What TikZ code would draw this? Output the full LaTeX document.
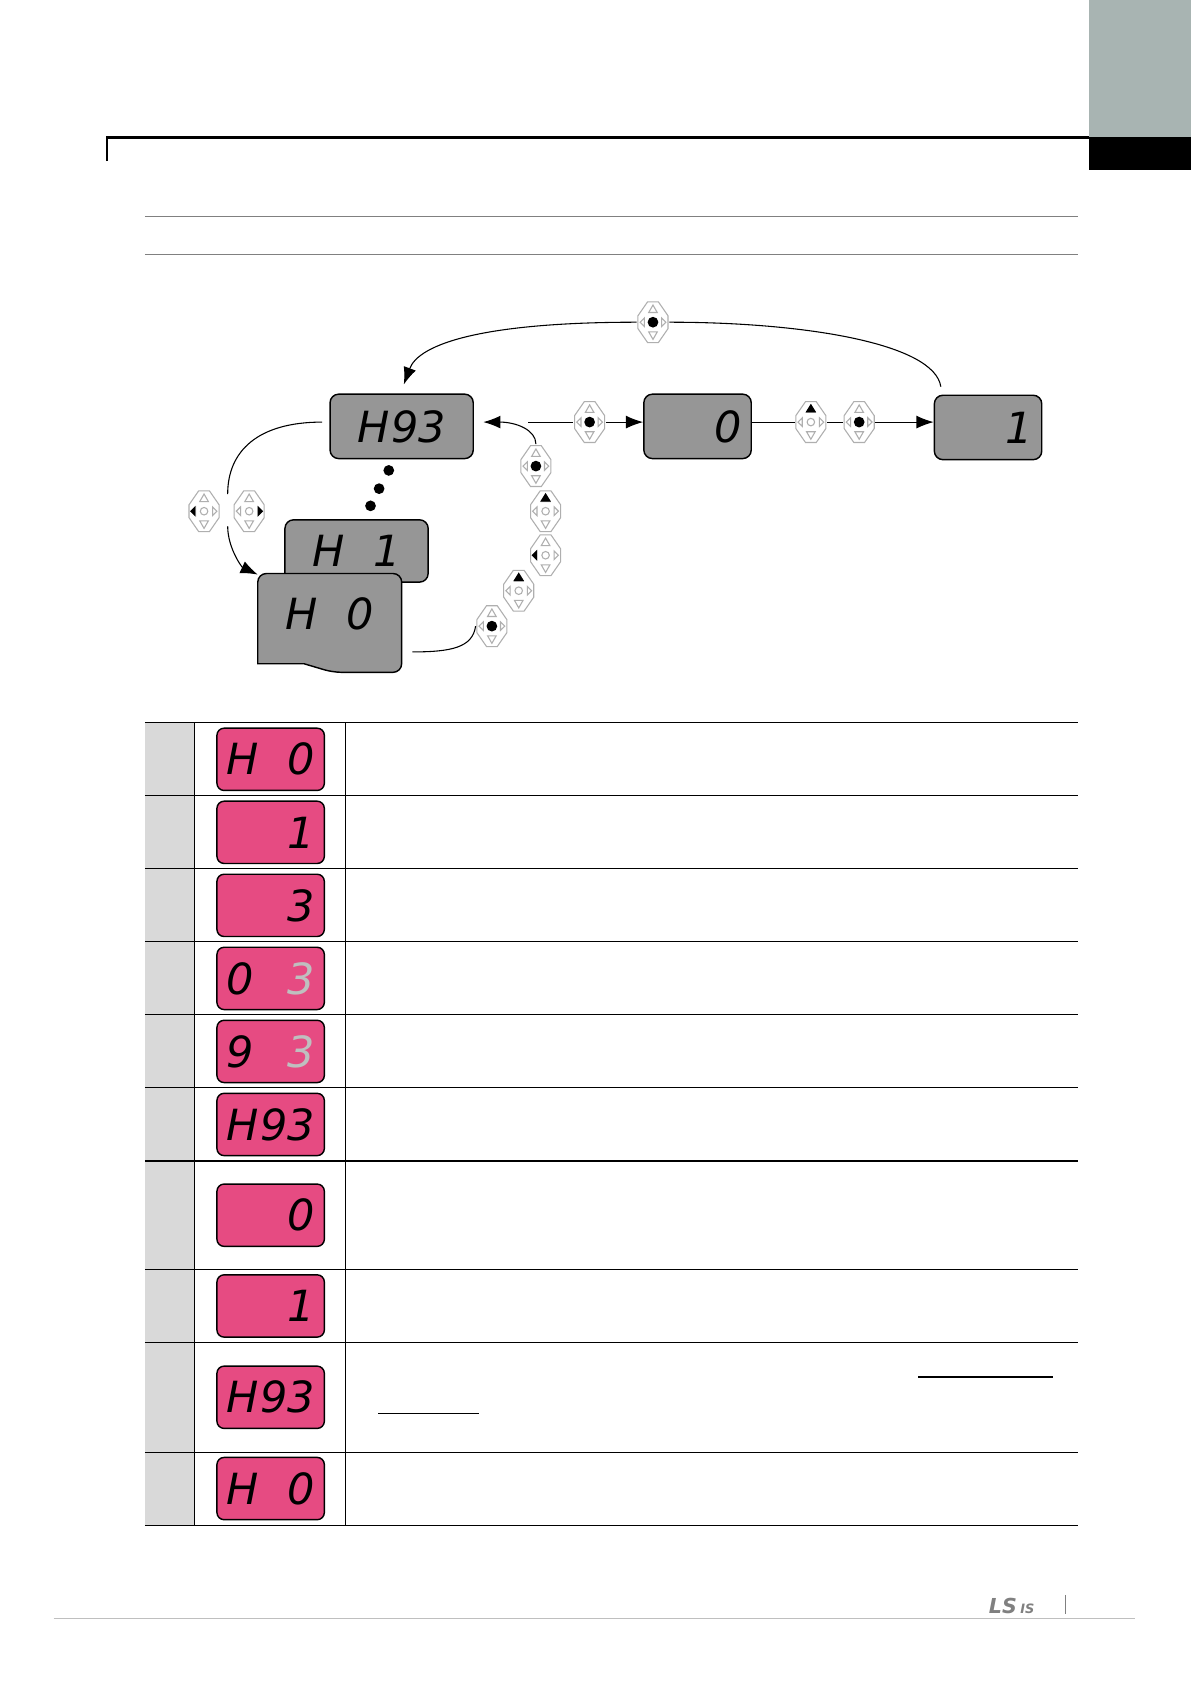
\documentclass[tikz,border=0pt]{standalone}
\usepackage{fontspec}
\setsansfont{DejaVu Sans}
\usetikzlibrary{arrows.meta}
\definecolor{lcdgray}{RGB}{150,150,150}
\definecolor{lcdpink}{RGB}{230,75,130}
\definecolor{cellgray}{RGB}{217,217,217}
\definecolor{tabgray}{RGB}{168,180,178}
\definecolor{padgray}{RGB}{175,175,175}
\newcommand{\segfont}{\fontsize{30}{30}\selectfont\sffamily\itshape}
\newcommand{\lcdtext}[2]{\makebox[62pt]{#1\hfill#2}}
\newcommand{\drawpad}[1]{%
  \begin{scope}[shift={(path picture bounding box.center)}]
    \draw[padgray, fill=white] (-5,-19) -- (5,-19) -- (14,-6) -- (14,6) -- (5,19) -- (-5,19) -- (-14,6) -- (-14,-6) -- cycle;
    \draw[padgray] (-4,9) -- (4,9) -- (0,16) -- cycle;
    \draw[padgray] (-4,-9) -- (4,-9) -- (0,-16) -- cycle;
    \draw[padgray] (-8,-4) -- (-8,4) -- (-12,0) -- cycle;
    \draw[padgray] (8,-4) -- (8,4) -- (12,0) -- cycle;
    \draw[padgray] (0,0) circle [radius=3.5];
    \ifcase#1
      \fill (0,0) circle [radius=5];
    \or \fill (-5,9) -- (5,9) -- (0,17) -- cycle;
    \or \fill (-8,-5) -- (-8,5) -- (-13,0) -- cycle;
    \or \fill (8,-5) -- (8,5) -- (13,0) -- cycle;
    \fi
  \end{scope}}
\tikzset{every picture/.style={line width=0.75pt}}
\tikzset{
  pad/.style={inner sep=0pt, minimum width=22pt, minimum height=30pt, path picture={\drawpad{#1}}},
  lcd/.style={draw, fill=lcdgray, rounded corners=6pt, line width=1pt, inner sep=0pt, font=\segfont},
  pinklcd/.style={draw, fill=lcdpink, rounded corners=5pt, line width=1pt, inner sep=0pt,
    minimum width=75pt, minimum height=43.5pt, font=\segfont},
  flow/.style={-{Latex[length=12pt,width=9pt]}},
}
\begin{document}
\begin{tikzpicture}[x=0.75pt,y=0.75pt,yscale=-1,xscale=1]
\useasboundingbox (0,0) rectangle (1109,1568);

% page header
\fill[tabgray] (1014,0) rectangle (1109,128);
\fill[black] (1014,128) rectangle (1109,158);
\draw[line width=1.5pt] (100,150) -- (100,128) -- (1014,128);
\draw[gray] (135,202) -- (1004,202);
\draw[gray] (135,237) -- (1004,237);

% displays of the diagram
\node[lcd, minimum width=100pt, minimum height=45pt] (h93) at (374,397) {\lcdtext{H}{93}};
\node[lcd, minimum width=75pt, minimum height=45pt] (zero) at (649.5,397) {\lcdtext{}{0}};
\node[lcd, minimum width=75pt, minimum height=45pt] (one) at (920,398) {\lcdtext{}{1}};
\node[lcd, minimum width=100pt, minimum height=43.5pt] (h1) at (332,513) {\lcdtext{H}{1}};
% H0 with torn lower edge
\draw[fill=lcdgray, line width=1pt, rounded corners=6pt] (240,618) -- (240,534) -- (374,534) -- (374,626) -- (310,626) [sharp corners] -- (283,618) -- cycle;
\node[font=\segfont, inner sep=0pt] (h0) at (307,572) {\lcdtext{H}{0}};
\coordinate (h0e) at (384,607);

% dots between H1 and H93
\fill (362,438) circle [radius=5];
\fill (353,455) circle [radius=5];
\fill (345,471) circle [radius=5];

% keypads
\node[pad=0] (ktop) at (608,300) {};
\node[pad=0] (ka) at (549,393) {};
\node[pad=1] (kb) at (755,393) {};
\node[pad=0] (kc) at (800,393) {};
\node[pad=2] (kl) at (190,476) {};
\node[pad=3] (kr) at (232,476) {};
\node[pad=0] (k1) at (458,583) {};
\node[pad=1] (k2) at (483,550) {};
\node[pad=2] (k3) at (508,517) {};
\node[pad=1] (k4) at (508,476) {};
\node[pad=0] (k5) at (499,434) {};

% connectors
\coordinate (onetop) at (876,360);
\coordinate (h93top) at (376,358);
\draw (onetop) .. controls (870,320) and (750,300) .. (ktop.east);
\draw[flow] (ktop.west) .. controls (450,300) and (390,320) .. (h93top);
\coordinate (hs) at (492,393);
\draw (hs) -- (ka.west);
\draw[flow] (ka.east) -- (zero.west |- ka.east);
\draw (zero.east |- kb.west) -- (kb.west);
\draw (kb.east) -- (kc.west);
\draw[flow] (kc.east) -- (one.west |- kc.east);
\coordinate (h93w) at (300,393);
\draw (h93w) .. controls (240,393) and (212,420) .. (212,460);
\coordinate (lbot) at (212,490);
\coordinate (h0top) at (240,535);
\draw[flow] (lbot) .. controls (212,510) and (225,528) .. (h0top);
\draw (h0e) .. controls (420,607) and (440,603) .. (k1.west);
\coordinate (h93e) at (450,393);
\draw[flow] (k5.north) .. controls (499,400) and (480,393) .. (h93e);

% table
\foreach \t/\b/\l/\r [count=\i] in {673/741/H/0, 741/809//1, 809/877//3, 877/945/0/{\color{lightgray}3},
    945/1013/9/{\color{lightgray}3}, 1013/1081/H/93, 1081/1182//0, 1182/1250//1, 1250/1352/H/93, 1352/1420/H/0} {
  \fill[cellgray] (135,\t) rectangle (181,\b);
  \draw (181,\t) -- (181,\b);
  \draw (322,\t) -- (322,\b);
  \draw (135,\t) -- (1004,\t);
  \node[pinklcd] (d\i) at (252,{(\t+\b)/2}) {\lcdtext{\l}{\r}};
}
\draw (135,1420) -- (1004,1420);
\draw[line width=1.2pt] (855,1282) -- (980,1282);
\draw[line width=1.2pt] (352,1316) -- (446,1316);

% footer
\draw[lightgray, line width=1.2pt] (50,1507) -- (1057,1507);
\node[font=\sffamily\bfseries\itshape\Large, text=gray, inner sep=0pt] (logo) at (942,1495) {LS\,\small IS};
\draw[gray] (992,1485) -- (992,1503);
\end{tikzpicture}
\end{document}
